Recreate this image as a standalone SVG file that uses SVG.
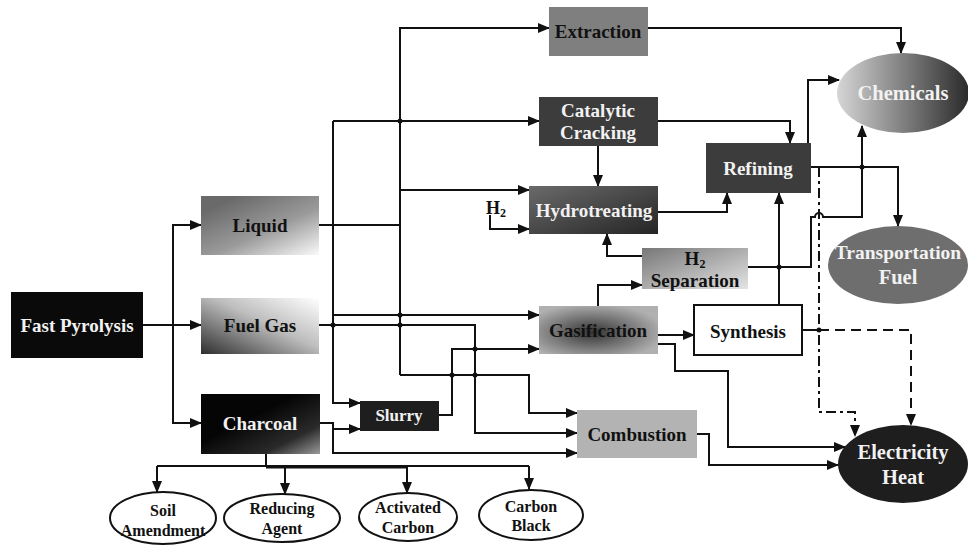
<svg xmlns="http://www.w3.org/2000/svg" width="968" height="545" viewBox="0 0 968 545">
<style>
.t{font-family:"Liberation Serif","Times New Roman",serif;font-weight:bold;font-size:19px;text-anchor:middle}
.e{font-size:20.5px}
.s{font-size:16px}
.w{fill:#f2f2f2}
.k{fill:#111}
.c{fill:none;stroke:#111;stroke-width:2}
.a{marker-end:url(#ah)}
.dd{stroke-dasharray:10,4,3,4}
.ds{stroke-dasharray:10,6}
.oval{fill:#fff;stroke:#111;stroke-width:2}
</style>
<defs>
<marker id="ah" markerUnits="userSpaceOnUse" markerWidth="12" markerHeight="10" refX="11" refY="5" orient="auto"><path d="M0,0 L12,5 L0,10 z" fill="#111"/></marker>
<linearGradient id="gLiq" x1="0.2" y1="0.1" x2="1" y2="1"><stop offset="0" stop-color="#6a6a6a"/><stop offset="0.5" stop-color="#9a9a9a"/><stop offset="1" stop-color="#fafafa"/></linearGradient>
<linearGradient id="gGas" x1="0" y1="1" x2="1" y2="0"><stop offset="0" stop-color="#2e2e2e"/><stop offset="0.55" stop-color="#bdbdbd"/><stop offset="1" stop-color="#ffffff"/></linearGradient>
<linearGradient id="gChar" x1="0.4" y1="0.4" x2="1" y2="1"><stop offset="0" stop-color="#050505"/><stop offset="0.6" stop-color="#2a2a2a"/><stop offset="1" stop-color="#9a9a9a"/></linearGradient>
<linearGradient id="gHyd" x1="0" y1="0" x2="1" y2="1"><stop offset="0" stop-color="#6a6a6a"/><stop offset="1" stop-color="#252525"/></linearGradient>
<linearGradient id="gSep" x1="0" y1="0" x2="1" y2="1"><stop offset="0" stop-color="#777"/><stop offset="1" stop-color="#e4e4e4"/></linearGradient>
<radialGradient id="gGsf" cx="0.45" cy="0.55" r="0.6"><stop offset="0" stop-color="#333"/><stop offset="1" stop-color="#b0b0b0"/></radialGradient>
<linearGradient id="gChem" x1="0" y1="0" x2="1" y2="0"><stop offset="0" stop-color="#d6d6d6"/><stop offset="1" stop-color="#2a2a2a"/></linearGradient>
</defs>

<g id="connectors">
<path class="c a" d="M143,325 H201"/>
<path class="c a" d="M173,325 V225 H201"/>
<path class="c a" d="M173,325 V423 H201"/>
<path class="c" d="M319,225 H400"/>
<path class="c a" d="M400,375 V28 H549"/>
<path class="c a" d="M333,121 H539"/>
<path class="c a" d="M333,121 V403 H360"/>
<path class="c a" d="M400,190 H529"/>
<path class="c a" d="M333,315 H539"/>
<path class="c a" d="M400,375 H529 V413 H577"/>
<path class="c a" d="M319,325 H475 V433 H577"/>
<path class="c a" d="M439,415 H452 V349 H539"/>
<path class="c a" d="M320,423 H333 V453 H577"/>
<path class="c a" d="M333,429 H360"/>
<path class="c" d="M266,454 V466"/>
<path class="c" d="M157,466 H529"/>
<path class="c" d="M266,467.5 H407"/>
<path class="c a" d="M157,466 V492"/>
<path class="c a" d="M285,466 V494"/>
<path class="c a" d="M407,466 V493"/>
<path class="c a" d="M529,466 V489"/>
<path class="c a" d="M598,146 V186"/>
<path class="c a" d="M658,121 H790 V143"/>
<path class="c a" d="M648,28 H901 V53"/>
<path class="c a" d="M658,212 H727 V193"/>
<path class="c a" d="M490,215 V229 H529"/>
<path class="c a" d="M642,256 H607 V234"/>
<path class="c a" d="M598,306 V285 H642"/>
<path class="c a" d="M658,335 H694"/>
<path class="c a" d="M658,344 H675 V371 H728 V447 H845"/>
<path class="c a" d="M697,434 H709 V465 H838"/>
<path class="c a" d="M779,305 V193"/>
<path class="c a" d="M748,267 H811 V217 H815 a4,4 0 0 1 8,0 H862 V126"/>
<path class="c a" d="M811,167 H898 V226"/>
<path class="c a" d="M808,143 V80 H839"/>
<path class="c dd a" d="M819,167 V412 H855 V436"/>
<path class="c" d="M802,330 H819"/>
<path class="c ds a" d="M819,330 H911 V425"/>
<g fill="#111">
<circle cx="400" cy="121" r="2.5"/>
<circle cx="400" cy="315" r="2.5"/>
<circle cx="400" cy="325" r="2.5"/>
<circle cx="333" cy="325" r="2.5"/>
<circle cx="475" cy="349" r="2.5"/>
<circle cx="452" cy="375" r="2.5"/>
<circle cx="475" cy="375" r="2.5"/>
<circle cx="779" cy="267" r="2.5"/>
<circle cx="862" cy="167" r="2.5"/>
<circle cx="819" cy="330" r="2.5"/>
</g>
</g>

<g id="fast-pyrolysis"><rect x="11" y="292" width="132" height="66" fill="#0a0a0a"/><text class="t w" x="77" y="332">Fast Pyrolysis</text></g>
<g id="liquid"><rect x="201" y="196" width="118" height="59" fill="url(#gLiq)"/><text class="t k" x="260" y="232">Liquid</text></g>
<g id="fuel-gas"><rect x="201" y="298" width="118" height="56" fill="url(#gGas)"/><text class="t k" x="260" y="332">Fuel Gas</text></g>
<g id="charcoal"><rect x="201" y="394" width="119" height="60" fill="url(#gChar)"/><text class="t w" x="260" y="430">Charcoal</text></g>
<g id="slurry"><rect x="360" y="401" width="79" height="30" fill="#1e1e1e"/><text class="t w" x="399" y="421" style="font-size:17px">Slurry</text></g>
<g id="extraction"><rect x="549" y="7" width="99" height="49" fill="#7f7f7f"/><text class="t k" x="598" y="38">Extraction</text></g>
<g id="catalytic-cracking"><rect x="539" y="97" width="119" height="49" fill="#3c3c3c"/><text class="t w" x="598" y="117">Catalytic</text><text class="t w" x="598" y="139">Cracking</text></g>
<g id="refining"><rect x="706" y="143" width="105" height="50" fill="#3c3c3c"/><text class="t w" x="758" y="175">Refining</text></g>
<g id="chemicals"><ellipse cx="903" cy="93" rx="66" ry="40" fill="url(#gChem)"/><text class="t e w" x="903" y="100">Chemicals</text></g>
<g id="hydrotreating"><rect x="529" y="186" width="129" height="48" fill="url(#gHyd)"/><text class="t w" x="594" y="217">Hydrotreating</text></g>
<g id="h2-label"><text class="t k" x="496" y="214" style="font-size:18px">H<tspan style="font-size:12px" dy="3">2</tspan></text></g>
<g id="h2-separation"><rect x="642" y="248" width="106" height="41" fill="url(#gSep)"/><text class="t k" x="695" y="265">H<tspan style="font-size:12px" dy="3">2</tspan></text><text class="t k" x="695" y="287">Separation</text></g>
<g id="gasification"><rect x="539" y="306" width="119" height="48" fill="url(#gGsf)"/><text class="t k" x="598" y="337">Gasification</text></g>
<g id="synthesis"><rect x="694" y="305" width="108" height="50" fill="#fff" stroke="#111" stroke-width="2"/><text class="t k" x="748" y="338">Synthesis</text></g>
<g id="transportation-fuel"><ellipse cx="898" cy="265" rx="70" ry="39" fill="#6e6e6e"/><text class="t e w" x="898" y="259" style="font-size:19.5px">Transportation</text><text class="t e w" x="898" y="284">Fuel</text></g>
<g id="combustion"><rect x="577" y="410" width="120" height="48" fill="#b3b3b3"/><text class="t k" x="637" y="441">Combustion</text></g>
<g id="electricity-heat"><ellipse cx="903" cy="464" rx="65" ry="39" fill="#1e1e1e"/><text class="t e w" x="903" y="459">Electricity</text><text class="t e w" x="903" y="484">Heat</text></g>
<g id="soil-amendment"><ellipse class="oval" cx="163" cy="518" rx="53" ry="26"/><text class="t s k" x="163" y="516">Soil</text><text class="t s k" x="163" y="536">Amendment</text></g>
<g id="reducing-agent"><ellipse class="oval" cx="282" cy="518" rx="58" ry="24"/><text class="t s k" x="282" y="514">Reducing</text><text class="t s k" x="282" y="534">Agent</text></g>
<g id="activated-carbon"><ellipse class="oval" cx="408" cy="517" rx="49" ry="24"/><text class="t s k" x="408" y="513">Activated</text><text class="t s k" x="408" y="533">Carbon</text></g>
<g id="carbon-black"><ellipse class="oval" cx="531" cy="515" rx="52" ry="25"/><text class="t s k" x="531" y="512">Carbon</text><text class="t s k" x="531" y="531">Black</text></g>
</svg>
